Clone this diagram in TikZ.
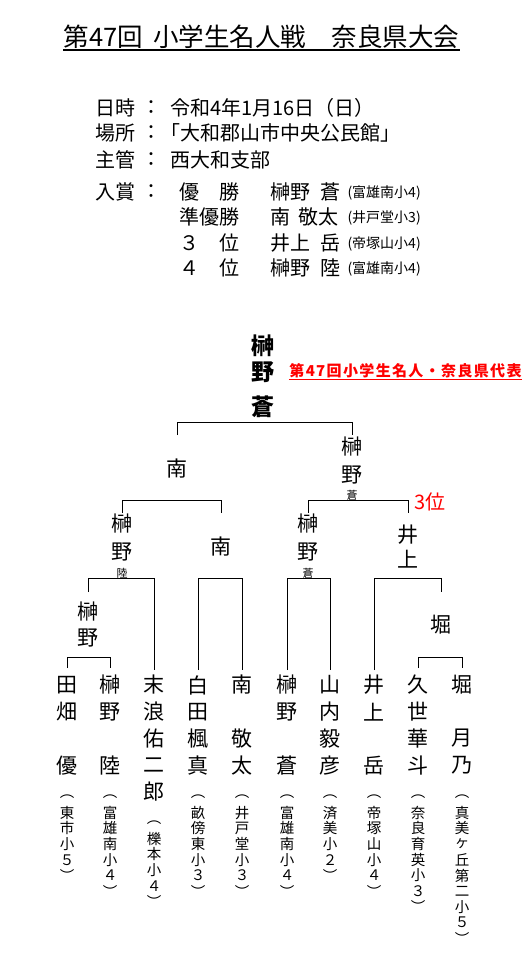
\documentclass[tikz,border=0pt]{standalone}
\usepackage{fontspec}
\setmainfont{Noto Sans CJK JP}
\newfontfamily\redfont{Noto Sans CJK JP}[LetterSpace=9]
\begin{document}
\begin{tikzpicture}[x=1pt,y=-1pt,line width=1pt,
  every node/.style={inner sep=0pt},
  ttl/.style={font=\fontsize{25.5}{30}\selectfont},
  info/.style={anchor=west,font=\fontsize{20}{24}\selectfont},
  sch/.style={anchor=west,font=\fontsize{14}{16}\selectfont},
  nm/.style={font=\fontsize{21}{24}\selectfont},
  champ/.style={font=\fontsize{23}{26}\selectfont\bfseries},
  smallnm/.style={font=\fontsize{11}{12}\selectfont},
  vsch/.style={font=\fontsize{14.5}{16}\selectfont},
  redlbl/.style={text=red,font=\redfont\fontsize{15}{18}\selectfont\bfseries},
  redrank/.style={text=red,font=\fontsize{20}{24}\selectfont},
  bracket/.style={draw=black,line width=1pt}]
\useasboundingbox (0,0) rectangle (529,969);

% title
\node[ttl] (title) at (261.5,37) {第47回\hspace{10pt}小学生名人戦　奈良県大会};
\draw[line width=1.4pt] (title.west |- 0,50) -- (title.east |- 0,50);

% info block
\node[info] (k1) at (95,108) {日時};
\node[info] (c1) at (141,108) {：};
\node[info] (v1) at (170,108) {令和4年1月16日（日）};
\node[info] (k2) at (95,133) {場所};
\node[info] (c2) at (141,133) {：};
\node[info] (v2) at (160,133) {「大和郡山市中央公民館」};
\node[info] (k3) at (95,160) {主管};
\node[info] (c3) at (141,160) {：};
\node[info] (v3) at (170,160) {西大和支部};
\node[info] (k4) at (95,192) {入賞};
\node[info] (c4) at (141,192) {：};
\node[info] (p1) at (179,192) {優　勝};
\node[info] (p2) at (179,217) {準優勝};
\node[info] (p3) at (179,243) {３　位};
\node[info] (p4) at (179,268) {４　位};
\node[info] (n1) at (270,192) {榊野\hspace{10pt}蒼};
\node[info] (n2) at (270,217) {南\hspace{8pt}敬太};
\node[info] (n3) at (270,243) {井上\hspace{10pt}岳};
\node[info] (n4) at (270,268) {榊野\hspace{10pt}陸};
\node[sch] (s1) at (347,193) {(富雄南小4)};
\node[sch] (s2) at (347,218) {(井戸堂小3)};
\node[sch] (s3) at (347,244) {(帝塚山小4)};
\node[sch] (s4) at (347,269) {(富雄南小4)};

% champion
\node[champ] (ch1) at (263,346) {榊};
\node[champ] (ch2) at (263,372) {野};
\node[champ] (ch3) at (263,407) {蒼};
\node[redlbl] (rep) at (405.5,371) {第47回小学生名人・奈良県代表};
\draw[red,line width=1pt] (rep.west |- 0,379.5) -- (rep.east |- 0,379.5);

% semifinal winners
\node[nm] (sL) at (177,469) {南};
\node[nm] (sR1) at (352,447) {榊};
\node[nm] (sR2) at (352,475) {野};
\node[smallnm] (sR3) at (352,495) {蒼};
\node[redrank] (third) at (430,502) {3位};

% quarterfinal winners
\node[nm] (qA1) at (122,524) {榊};
\node[nm] (qA2) at (122,552) {野};
\node[smallnm] (qA3) at (122,573) {陸};
\node[nm] (qB) at (221,547) {南};
\node[nm] (qC1) at (308,524) {榊};
\node[nm] (qC2) at (308,552) {野};
\node[smallnm] (qC3) at (308,573) {蒼};
\node[nm] (qD1) at (408,535) {井};
\node[nm] (qD2) at (408,559) {上};

% first round winners
\node[nm] (rA1) at (88,612) {榊};
\node[nm] (rA2) at (88,638) {野};
\node[nm] (rB) at (441,625) {堀};

% players
\foreach \c/\r in {田/1,畑/2,優/4} \node[nm] (L1-\r) at (67,{685+26.75*(\r-1)}) {\c};
\foreach \c/\r in {榊/1,野/2,陸/4} \node[nm] (L2-\r) at (110,{685+26.75*(\r-1)}) {\c};
\foreach \c/\r in {末/1,浪/2,佑/3,二/4,郎/5} \node[nm] (L3-\r) at (154,{685+26.75*(\r-1)}) {\c};
\foreach \c/\r in {白/1,田/2,楓/3,真/4} \node[nm] (L4-\r) at (198,{685+26.75*(\r-1)}) {\c};
\foreach \c/\r in {南/1,敬/3,太/4} \node[nm] (L5-\r) at (242,{685+26.75*(\r-1)}) {\c};
\foreach \c/\r in {榊/1,野/2,蒼/4} \node[nm] (L6-\r) at (287,{685+26.75*(\r-1)}) {\c};
\foreach \c/\r in {山/1,内/2,毅/3,彦/4} \node[nm] (L7-\r) at (330,{685+26.75*(\r-1)}) {\c};
\foreach \c/\r in {井/1,上/2,岳/4} \node[nm] (L8-\r) at (374,{685+26.75*(\r-1)}) {\c};
\foreach \c/\r in {久/1,世/2,華/3,斗/4} \node[nm] (L9-\r) at (418,{685+26.75*(\r-1)}) {\c};
\foreach \c/\r in {堀/1,月/3,乃/4} \node[nm] (L10-\r) at (462,{685+26.75*(\r-1)}) {\c};

% schools (vertical)
\foreach \c [count=\i] in {︵,東,市,小,５,︶} \node[vsch] (S1-\i) at (67,{797+15.7*(\i-1)}) {\c};
\foreach \c [count=\i] in {︵,富,雄,南,小,４,︶} \node[vsch] (S2-\i) at (110,{797+15.7*(\i-1)}) {\c};
\foreach \c [count=\i] in {︵,櫟,本,小,４,︶} \node[vsch] (S3-\i) at (154,{823+15.7*(\i-1)}) {\c};
\foreach \c [count=\i] in {︵,畝,傍,東,小,３,︶} \node[vsch] (S4-\i) at (198,{797+15.7*(\i-1)}) {\c};
\foreach \c [count=\i] in {︵,井,戸,堂,小,３,︶} \node[vsch] (S5-\i) at (242,{797+15.7*(\i-1)}) {\c};
\foreach \c [count=\i] in {︵,富,雄,南,小,４,︶} \node[vsch] (S6-\i) at (287,{797+15.7*(\i-1)}) {\c};
\foreach \c [count=\i] in {︵,済,美,小,２,︶} \node[vsch] (S7-\i) at (330,{797+15.7*(\i-1)}) {\c};
\foreach \c [count=\i] in {︵,帝,塚,山,小,４,︶} \node[vsch] (S8-\i) at (374,{797+15.7*(\i-1)}) {\c};
\foreach \c [count=\i] in {︵,奈,良,育,英,小,３,︶} \node[vsch] (S9-\i) at (418,{797+15.7*(\i-1)}) {\c};
\foreach \c [count=\i] in {︵,真,美,ヶ,丘,第,二,小,５,︶} \node[vsch] (S10-\i) at (462,{797+15.7*(\i-1)}) {\c};

% brackets
\draw[bracket] (sL |- 0,435) -- (sL |- 0,422) -| (sR1 |- 0,435);
\draw[bracket] (qA1 |- 0,513) -- (qA1 |- 0,500) -| (qB |- 0,513);
\draw[bracket] (qC1 |- 0,513) -- (qC1 |- 0,500) -| (qD1 |- 0,513);
\draw[bracket] (rA1 |- 0,592) -- (rA1 |- 0,578) -| (L3-1 |- 0,670);
\draw[bracket] (L4-1 |- 0,670) -- (L4-1 |- 0,578) -| (L5-1 |- 0,670);
\draw[bracket] (L6-1 |- 0,670) -- (L6-1 |- 0,578) -| (L7-1 |- 0,670);
\draw[bracket] (L8-1 |- 0,670) -- (L8-1 |- 0,578) -| (rB |- 0,592);
\draw[bracket] (L1-1 |- 0,668) -- (L1-1 |- 0,657) -| (L2-1 |- 0,668);
\draw[bracket] (L9-1 |- 0,668) -- (L9-1 |- 0,657) -| (L10-1 |- 0,668);
\end{tikzpicture}
\end{document}
